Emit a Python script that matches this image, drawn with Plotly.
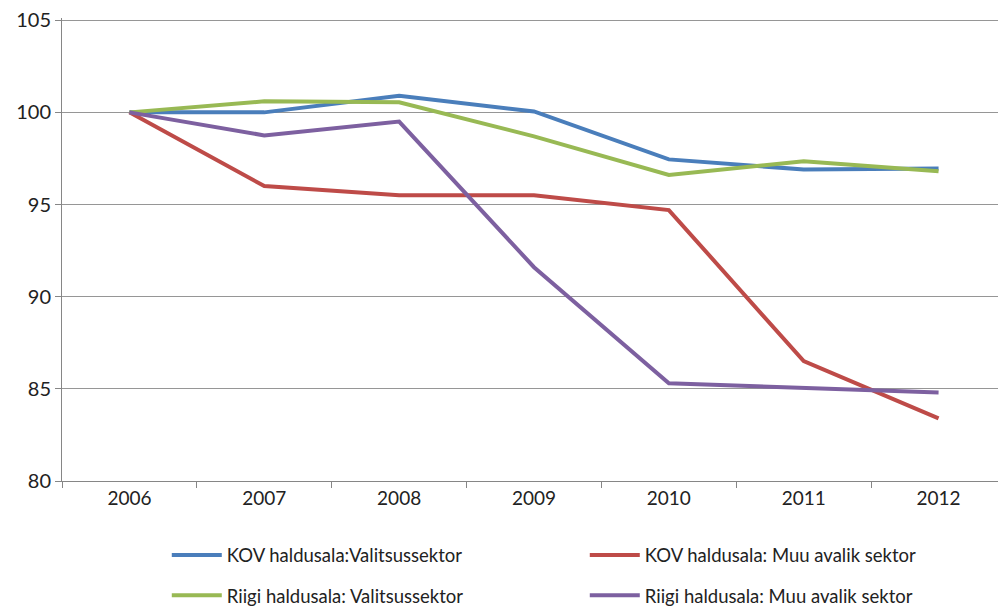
import plotly.graph_objects as go

years = ["2006", "2007", "2008", "2009", "2010", "2011", "2012"]
kov_valitsus = [100.0, 100.0, 100.9, 100.05, 97.45, 96.9, 96.95]
kov_muu = [100.0, 96.0, 95.5, 95.5, 94.7, 86.5, 83.4]
riigi_valitsus = [100.0, 100.6, 100.55, 98.7, 96.6, 97.35, 96.8]
riigi_muu = [100.0, 98.75, 99.5, 91.6, 85.3, 85.05, 84.8]

names = ["KOV haldusala:Valitsussektor", "KOV haldusala: Muu avalik sektor",
         "Riigi haldusala: Valitsussektor", "Riigi haldusala: Muu avalik sektor"]
colors = ["#4A7EBB", "#BE4B48", "#98B954", "#7D60A0"]
series = [kov_valitsus, kov_muu, riigi_valitsus, riigi_muu]
legends = ["legend", "legend", "legend2", "legend2"]

FONT = "Lato, Open Sans, sans-serif"

fig = go.Figure()
for n, c, s, lg in zip(names, colors, series, legends):
    fig.add_trace(go.Scatter(x=years, y=s, name=n, mode="lines",
                             line=dict(color=c, width=4), legend=lg))

fig.update_layout(
    width=998, height=602,
    margin=dict(l=54, r=0, t=10, b=129, autoexpand=False),
    plot_bgcolor="white", paper_bgcolor="white",
    font=dict(family=FONT, size=19, color="#222"),
    xaxis=dict(type="category", showgrid=False, showline=True, linecolor="#868686",
               linewidth=1, ticks="outside", tickson="boundaries", ticklen=6,
               tickcolor="#868686", tickfont=dict(size=19, family=FONT),
               range=[-0.5, 6.5], automargin=False),
    yaxis=dict(range=[80, 105.12], tickvals=[80, 85, 90, 95, 100, 105],
               showgrid=True, gridcolor="#969696",
               gridwidth=1, showline=True, linecolor="#868686", linewidth=1,
               ticks="outside", ticklen=6, tickcolor="#868686",
               tickfont=dict(size=20, family=FONT), zeroline=False,
               automargin=False, ticklabeloverflow="allow"),
    legend=dict(orientation="h", x=0.111, y=-0.12, xanchor="left", yanchor="top",
                entrywidth=353, itemwidth=50, font=dict(size=18.5, family=FONT)),
    legend2=dict(orientation="h", x=0.111, y=-0.207, xanchor="left", yanchor="top",
                 entrywidth=353, itemwidth=50, font=dict(size=18.5, family=FONT)),
)

fig.write_html("out.html")
